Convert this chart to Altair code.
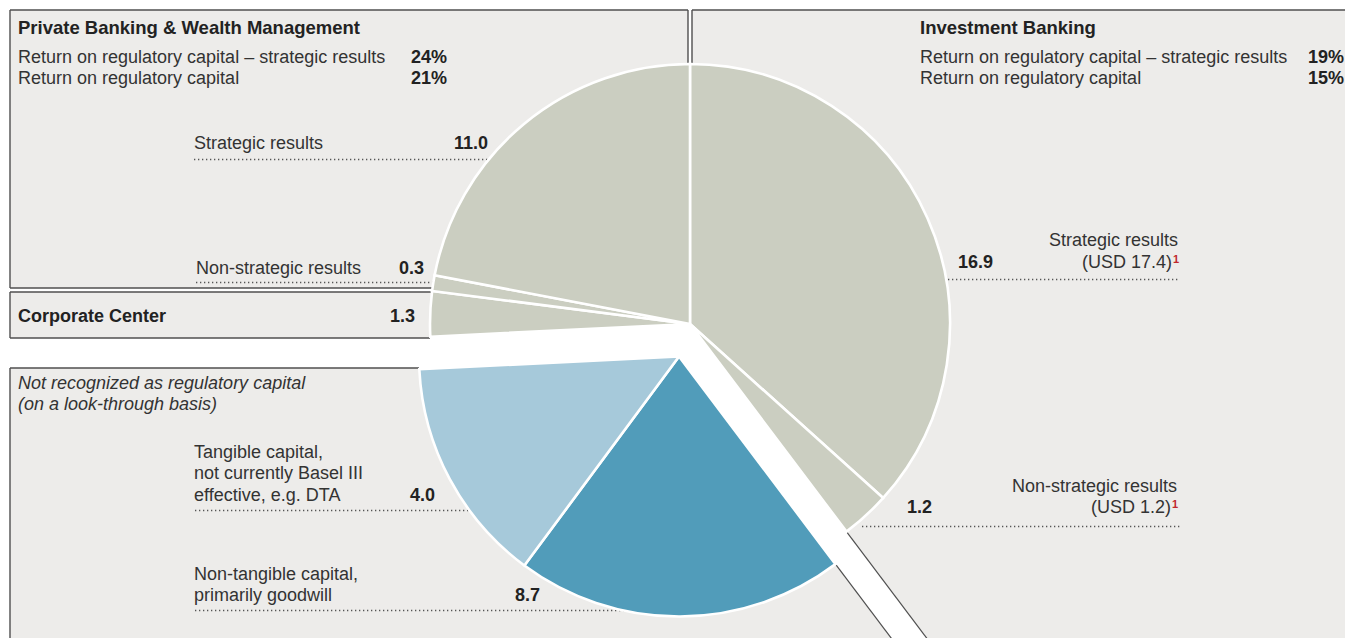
import math
import altair as alt
import pandas as pd

# ---------------- data ----------------
segments = [
    "IB strategic results",
    "IB non-strategic results",
    "Non-tangible capital",
    "Tangible capital",
    "Corporate Center",
    "PB&WM non-strategic results",
    "PB&WM strategic results",
]
values = [16.9, 1.2, 8.7, 4.0, 1.3, 0.3, 11.0]
# angular size of each slice as drawn in the reference (degrees)
drawn_angle = [132.0, 11.0, 73.5, 50.7, 10.1, 3.5, 79.2]
piece = ["main", "main", "exploded", "exploded", "main", "main", "main"]
slice_colors = ["#CBCEC1", "#CBCEC1", "#519CBA", "#A6C9DA", "#CBCEC1", "#CBCEC1", "#CBCEC1"]
usd_values = [17.4, 1.2]
return_labels = ["Return on regulatory capital – strategic results", "Return on regulatory capital"]
pb_returns = ["24%", "21%"]
ib_returns = ["19%", "15%"]

# ---------------- layout constants (page pixels) ----------------
OFF = 8
W, H = 1337, 630
CX, CY = 690, 324          # main pie centre
EX, EY = 679, 356.5        # exploded part centre
R = 260
BG = "#EDECEA"
LINE = "#4F4F4F"
TXT = "#333333"
BOLD = "#222222"
FONT = "Liberation Sans"


def X(v):
    return v - OFF


one = pd.DataFrame({"k": [0]})


def rect(x1, y1, x2, y2, color=BG):
    return alt.Chart(one).mark_rect(color=color).encode(
        x=alt.value(X(x1)), x2=alt.value(X(x2)), y=alt.value(X(y1)), y2=alt.value(X(y2))
    )


def rule(x1, y1, x2, y2, color=LINE, width=1.4, dash=None):
    kw = {"strokeDash": dash} if dash else {}
    return alt.Chart(one).mark_rule(color=color, strokeWidth=width, **kw).encode(
        x=alt.value(X(x1)), x2=alt.value(X(x2)), y=alt.value(X(y1)), y2=alt.value(X(y2))
    )


def text(s, x, y, size=18, weight="normal", align="left", style="normal", color=TXT):
    return alt.Chart(one).mark_text(
        fontSize=size, fontWeight=weight, align=align, baseline="alphabetic",
        font=FONT, fontStyle=style, color=color,
    ).encode(x=alt.value(X(x)), y=alt.value(X(y)), text=alt.value(s))


def dots(x1, x2, y):
    return rule(x1, y, x2, y, color="#555555", width=1.3, dash=[1.3, 2.7])


layers = []

# ---- boxes (background) ----
layers += [
    rect(692, 10, 1353, 640),   # Investment Banking region
    rect(10, 10, 688, 288),     # PB&WM box
    rect(10, 292, 431, 338),    # Corporate Center box
    rect(10, 368, 1000, 640),   # not-recognized box
]

# ---- white cut through the page (diagonal band) ----
ang = math.radians(143)
ux, uy = math.sin(ang), -math.cos(ang)
px_, py_ = uy, -ux
band_w = abs((EX - CX) * px_ + (EY - CY) * py_)
mx, my = (CX + EX) / 2, (CY + EY) / 2
layers.append(rule(mx - 40 * ux, my - 40 * uy, mx + 420 * ux, my + 420 * uy, color="white", width=band_w + 0.5))

# band edge lines outside the pie
for cx0, cy0 in [(CX, CY), (EX, EY)]:
    sx, sy = cx0 + R * ux, cy0 + R * uy
    t_end = (660 - cy0) / uy
    layers.append(rule(sx, sy, cx0 + t_end * ux, cy0 + t_end * uy, width=1.2))

# ---- box borders ----
layers += [
    rule(10, 10, 688, 10), rule(10, 10, 10, 288), rule(688, 10, 688, 72), rule(10, 288, 440, 288),
    rule(692, 10, 1353, 10), rule(692, 10, 692, 72),
    rule(10, 292, 440, 292), rule(10, 292, 10, 338), rule(10, 338, 430, 338),
    rule(10, 368, 419, 368), rule(10, 368, 10, 640),
]

# ---- dotted leaders ----
layers += [
    dots(194, 495, 159.5),
    dots(196, 440, 282.5),
    dots(195, 475, 510.5),
    dots(195, 628, 610.5),
    dots(940, 1180, 279.5),
    dots(862, 1180, 526.5),
]

# ---- pie ----
pie_df = pd.DataFrame({
    "segment": segments, "value": values, "angle": drawn_angle,
    "piece": piece, "order": list(range(len(segments))),
})
base = alt.Chart(pie_df).transform_window(
    cum="sum(angle)", sort=[alt.SortField("order")], frame=[None, 0]
).transform_calculate(start="datum.cum - datum.angle")

theta_scale = alt.Scale(domain=[0, 360], range=[0, 2 * math.pi])
color_enc = alt.Color("segment:N", scale=alt.Scale(domain=segments, range=slice_colors), legend=None)


def pie_part(name, cx0, cy0):
    return base.transform_filter(alt.datum.piece == name).mark_arc(
        outerRadius=R, stroke="white", strokeWidth=2.6
    ).encode(
        theta=alt.Theta("start:Q", scale=theta_scale),
        theta2=alt.Theta2("cum:Q"),
        color=color_enc,
        x=alt.value(X(cx0)),
        y=alt.value(X(cy0)),
        tooltip=["segment:N", "value:Q"],
    )


layers += [pie_part("main", CX, CY), pie_part("exploded", EX, EY)]

# ---- texts ----
v = {s: f"{val:.1f}" for s, val in zip(segments, values)}
layers += [
    text("Private Banking & Wealth Management", 18, 34, size=18.5, weight="bold", color=BOLD),
    text(return_labels[0], 18, 63), text(pb_returns[0], 447, 63, weight="bold", align="right", color=BOLD),
    text(return_labels[1], 18, 84), text(pb_returns[1], 447, 84, weight="bold", align="right", color=BOLD),

    text("Investment Banking", 920, 34, size=18.5, weight="bold", color=BOLD),
    text(return_labels[0], 920, 63), text(ib_returns[0], 1344, 63, weight="bold", align="right", color=BOLD),
    text(return_labels[1], 920, 84), text(ib_returns[1], 1344, 84, weight="bold", align="right", color=BOLD),

    text("Strategic results", 194, 149), text(v[segments[6]], 488, 149, weight="bold", align="right", color=BOLD),
    text("Non-strategic results", 196, 274), text(v[segments[5]], 424, 274, weight="bold", align="right", color=BOLD),
    text("Corporate Center", 18, 322, weight="bold", color=BOLD),
    text(v[segments[4]], 415, 322, weight="bold", align="right", color=BOLD),

    text("Not recognized as regulatory capital", 18, 389, style="italic"),
    text("(on a look-through basis)", 18, 410, style="italic"),
    text("Tangible capital,", 194, 458), text("not currently Basel III", 194, 479),
    text("effective, e.g. DTA", 194, 501), text(v[segments[3]], 435, 501, weight="bold", align="right", color=BOLD),
    text("Non-tangible capital,", 194, 580), text("primarily goodwill", 194, 601),
    text(v[segments[2]], 540, 601, weight="bold", align="right", color=BOLD),

    text("Strategic results", 1178, 246, align="right"),
    text(f"(USD {usd_values[0]:.1f})", 1172, 268, align="right"),
    text("1", 1173, 263, size=11, weight="bold", color="#C0282D"),
    text(v[segments[0]], 958, 268, weight="bold", color=BOLD),

    text("Non-strategic results", 1177, 492, align="right"),
    text(f"(USD {usd_values[1]:.1f})", 1171, 513, align="right"),
    text("1", 1172, 508, size=11, weight="bold", color="#C0282D"),
    text(v[segments[1]], 907, 513, weight="bold", color=BOLD),
]

chart = alt.layer(*layers).properties(
    width=W, height=H, padding=0, autosize=alt.AutoSizeParams(type="none"), background="white"
).configure_view(stroke=None)

chart.save("out.html", embed_options={"renderer": "svg", "actions": False})
